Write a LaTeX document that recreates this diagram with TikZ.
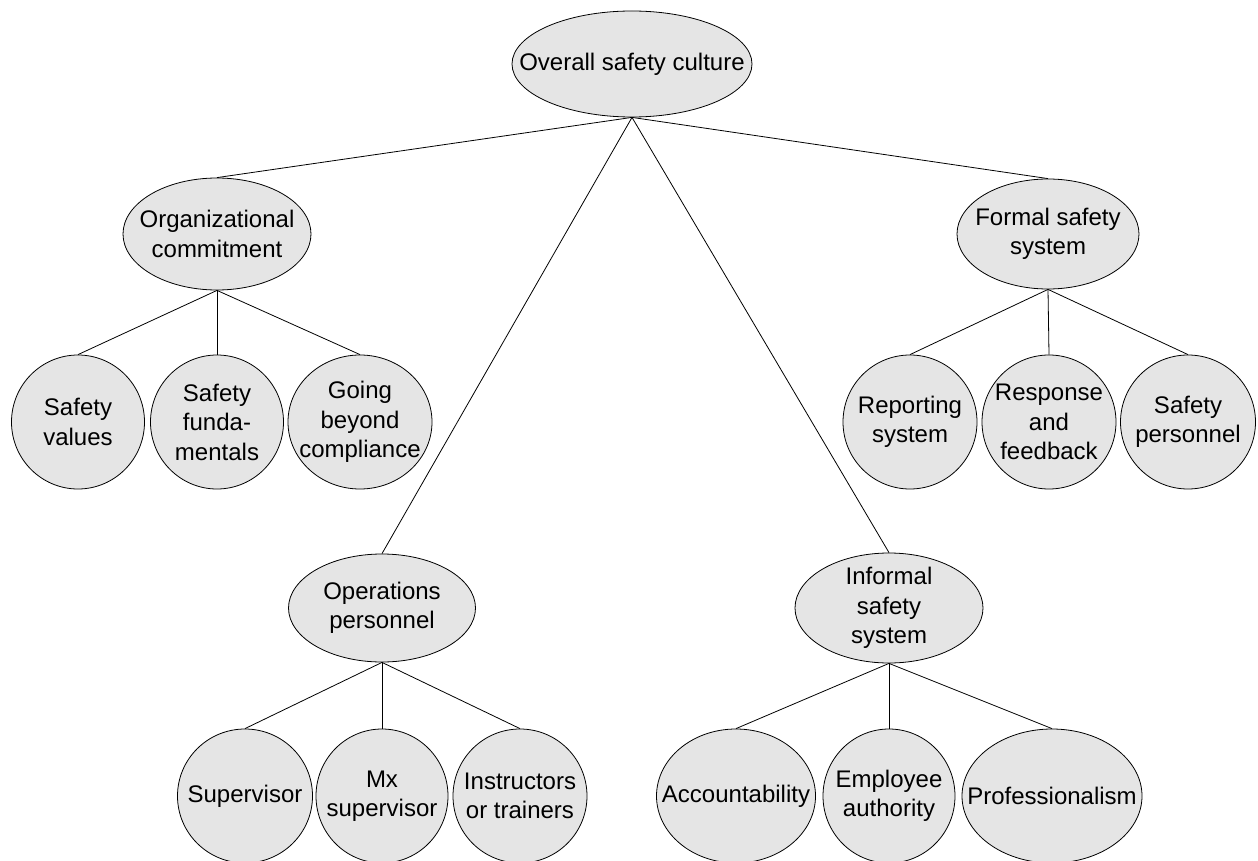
\documentclass[tikz,border=0pt]{standalone}
\usepackage{fontspec}
\usepackage{tikz}
\usetikzlibrary{shapes.geometric}
\newfontfamily\bubfont{Liberation Sans}
\definecolor{bubgray}{gray}{0.9}

\begin{document}
\begin{tikzpicture}
    [x = 1pt, y = -1pt, line width = 0.8pt,
     bub/.style = {ellipse, draw, fill = bubgray, inner sep = 0pt},
     every label/.style = {align = center, inner sep = 0pt, font = \bubfont\fontsize{24}{29.5}\selectfont}]
    \useasboundingbox (0,0) rectangle (1258,861);
    % top
    \node[bub, minimum width = 240pt, minimum height = 106pt, label = {center:Overall safety culture}] (n0) at (632,64) {};
    % second level
    \node[bub, minimum width = 188pt, minimum height = 112pt, label = {center:Organizational\\commitment}] (n1) at (217,234) {};
    \node[bub, minimum width = 182pt, minimum height = 110pt, label = {center:Formal safety\\system}] (n2) at (1048,234) {};
    \node[bub, minimum width = 187pt, minimum height = 108pt, label = {center:Operations\\personnel}] (n3) at (382,608) {};
    \node[bub, minimum width = 188pt, minimum height = 110pt, label = {center:Informal\\safety\\system}] (n4) at (889,608) {};
    % leaves
    \node[bub, minimum width = 133pt, minimum height = 134pt, label = {center:Safety\\values}] (n11) at (78,422) {};
    \node[bub, minimum width = 133pt, minimum height = 134pt, label = {center:Safety\\funda-\\mentals}] (n12) at (217,422) {};
    \node[bub, minimum width = 144pt, minimum height = 134pt, label = {center:Going\\beyond\\compliance}] (n13) at (360,422) {};
    \node[bub, minimum width = 134pt, minimum height = 134pt, label = {center:Reporting\\system}] (n21) at (910,422) {};
    \node[bub, minimum width = 134pt, minimum height = 134pt, label = {center:Response\\and\\feedback}] (n22) at (1049,422) {};
    \node[bub, minimum width = 135pt, minimum height = 134pt, label = {center:Safety\\personnel}] (n23) at (1188,422) {};
    \node[bub, minimum width = 135pt, minimum height = 134pt, label = {center:Supervisor}] (n31) at (245,796) {};
    \node[bub, minimum width = 132pt, minimum height = 134pt, label = {center:Mx\\supervisor}] (n32) at (382,796) {};
    \node[bub, minimum width = 134pt, minimum height = 134pt, label = {center:Instructors\\or trainers}] (n33) at (520,796) {};
    \node[bub, minimum width = 159pt, minimum height = 134pt, label = {center:Accountability}] (n41) at (736,796) {};
    \node[bub, minimum width = 132pt, minimum height = 134pt, label = {center:Employee\\authority}] (n42) at (889,796) {};
    \node[bub, minimum width = 180pt, minimum height = 134pt, label = {center:Professionalism}] (n43) at (1052,796) {};
    \foreach \from/ \to in {n0/n1,n0/n2,n0/n3,n0/n4,n1/n11,n1/n12,n1/n13,n2/n21,n2/n22,n2/n23,
                           n3/n31,n3/n32,n3/n33,n4/n41,n4/n42,n4/n43}
      \draw (\from.south) -- (\to.north);
\end{tikzpicture}
\end{document}
